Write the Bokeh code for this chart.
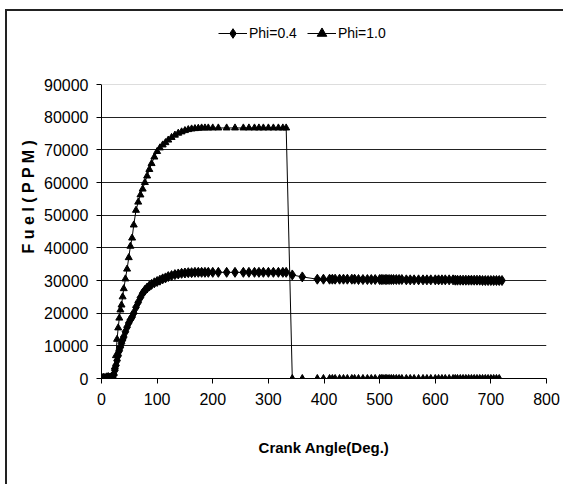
from bokeh.plotting import figure
from bokeh.models import (Range1d, FixedTicker, Legend, LegendItem, Span, InlineStyleSheet)
from bokeh.embed import file_html
from bokeh.resources import INLINE

crank_angle = [0, 3, 6, 9, 12, 15, 18, 20, 22, 24, 26, 28, 30, 32, 34, 36, 38, 40, 43, 46,
               49, 52, 55, 58, 62, 66, 70, 74, 78, 82, 86, 90, 95, 100, 105, 110, 115, 120,
               126, 132, 138, 144, 150, 156, 162, 168, 174, 180, 186, 192, 200, 210, 225,
               240, 255, 265, 275, 283, 291, 300, 309, 318, 326, 332, 343, 361, 388, 399,
               410, 415, 420, 428, 435, 442, 450, 455, 462, 470, 478, 485, 492, 500, 503,
               506, 510, 513, 517, 521, 525, 530, 535, 540, 548, 555, 562, 570, 578, 585,
               592, 600, 606, 612, 618, 625, 632, 636, 640, 645, 650, 655, 660, 665, 670,
               675, 680, 685, 690, 695, 700, 705, 710, 715, 720]

fuel_phi04 = [0, 100, 0, 200, 300, 100, 400, 600, 1200, 2500, 4000, 5500, 7000, 8500, 9600,
              10800, 11800, 12700, 14300, 15700, 17000, 18000, 18800, 20000, 21800, 23300,
              24800, 26100, 27000, 27700, 28300, 28800, 29300, 29700, 30100, 30500, 30800,
              31200, 31500, 31800, 32000, 32200, 32300, 32400, 32400, 32500, 32500, 32500,
              32500, 32500, 32500, 32500, 32500, 32500, 32500, 32500, 32500, 32500, 32500,
              32500, 32500, 32500, 32500, 32500, 31700, 31100, 30400, 30400,
              30400, 30400, 30400, 30400, 30400, 30400, 30400, 30400, 30300, 30300, 30300,
              30300, 30300, 30300, 30300, 30300, 30300, 30300, 30300, 30300, 30300, 30300,
              30300, 30300, 30200, 30200, 30200, 30200, 30200, 30200, 30200, 30200, 30200,
              30200, 30200, 30200, 30200, 30100, 30100, 30100, 30100, 30100, 30100, 30100,
              30100, 30100, 30100, 30000, 30000, 30000, 30000, 30000, 30000, 30000, 30000]

fuel_phi10 = [0, 0, 100, 0, 200, 300, 500, 800, 1500, 3500, 7000, 12000, 15500, 18500, 21000,
              22500, 25000, 27500, 30500, 33500, 37000, 40500, 43000, 47000, 51500, 54000,
              56200, 58000, 60000, 62000, 64000, 65800, 67800, 69500, 70600, 71500, 72200,
              73000, 73800, 74500, 75100, 75500, 75900, 76200, 76400, 76500, 76600, 76700,
              76700, 76700, 76700, 76700, 76700, 76700, 76700, 76700, 76700, 76700, 76700,
              76700, 76700, 76700, 76700, 76700, 0, 0, 0, 0,
              0, 0, 0, 0, 0, 0, 0, 0, 0, 0, 0, 0, 0, 0, 0, 0, 0, 0, 0, 0, 0, 0, 0, 0, 0,
              0, 0, 0, 0, 0, 0, 0, 0, 0, 0, 0, 0, 0, 0, 0, 0, 0, 0, 0, 0, 0, 0, 0, 0, 0,
              0, 0, 0, 0]

x_ticks = [0, 100, 200, 300, 400, 500, 600, 700, 800]
y_ticks = [0, 10000, 20000, 30000, 40000, 50000, 60000, 70000, 80000, 90000]
series_names = ["Phi=0.4", "Phi=1.0"]

FONT = "Liberation Sans"

css = InlineStyleSheet(css="""
:host { position: relative; }
:host::after { content: ""; position: absolute; left: 5px; top: 9px; right: 0; bottom: 0;
  border-left: 2px solid #222; border-top: 2px solid #222; pointer-events: none; }
""")

# frame: y=0 at canvas 378, y=90000 at canvas 84; extend range up so legend fits in frame
y_top = 90000 + (84 - 14) * 90000 / 294

p = figure(width=563, height=484, output_backend="svg", toolbar_location=None,
           x_range=Range1d(0, 800), y_range=Range1d(0, y_top),
           min_border_left=101, min_border_right=17, min_border_top=14, min_border_bottom=106,
           stylesheets=[css])
p.outline_line_color = None
p.background_fill_color = "white"
p.border_fill_color = "white"

p.xgrid.visible = False
p.ygrid.ticker = FixedTicker(ticks=y_ticks[1:-1])
p.ygrid.grid_line_color = "#222222"
p.ygrid.grid_line_width = 1
p.add_layout(Span(location=y_ticks[-1], dimension="width", line_color="#dddddd", line_width=1))

for ax, ticks in ((p.xaxis[0], x_ticks), (p.yaxis[0], y_ticks)):
    ax.ticker = FixedTicker(ticks=ticks)
    ax.axis_line_color = "black"
    ax.major_tick_line_color = "black"
    ax.major_tick_out = 5
    ax.major_tick_in = 0
    ax.minor_tick_line_color = None
    ax.major_label_text_font = FONT
    ax.major_label_text_font_size = "16px"
    ax.major_label_text_color = "black"
    ax.axis_label_text_font = FONT
    ax.axis_label_text_font_style = "bold"
    ax.axis_label_text_color = "black"

p.yaxis.bounds = (0, 90000)
p.xaxis.axis_label = "Crank Angle(Deg.)"
p.xaxis.axis_label_text_font_size = "15px"
p.xaxis.major_label_standoff = 9
p.xaxis.axis_label_standoff = 31
p.yaxis.axis_label = "F u e l ( P P M )"
p.yaxis.axis_label_text_font_size = "16px"
p.yaxis.major_label_standoff = 8
p.yaxis.axis_label_standoff = 4

l1 = p.line(crank_angle, fuel_phi04, line_color="black", line_width=1)
s1 = p.scatter(crank_angle, fuel_phi04, marker="diamond", size=10, fill_color="black",
               line_color="black")
l2 = p.line(crank_angle, fuel_phi10, line_color="black", line_width=1)
s2 = p.scatter(crank_angle, fuel_phi10, marker="triangle", size=7, fill_color="black",
               line_color="black")

legend = Legend(items=[LegendItem(label=series_names[0], renderers=[l1, s1]),
                       LegendItem(label=series_names[1], renderers=[l2, s2])],
                orientation="horizontal", location=(117, 333),
                glyph_width=29, glyph_height=24, label_standoff=2, spacing=10,
                padding=0, margin=0, border_line_color=None, background_fill_alpha=0,
                label_text_font=FONT, label_text_font_size="14px", label_text_color="black")
p.add_layout(legend)

open("out.html", "w").write(file_html(p, INLINE))
